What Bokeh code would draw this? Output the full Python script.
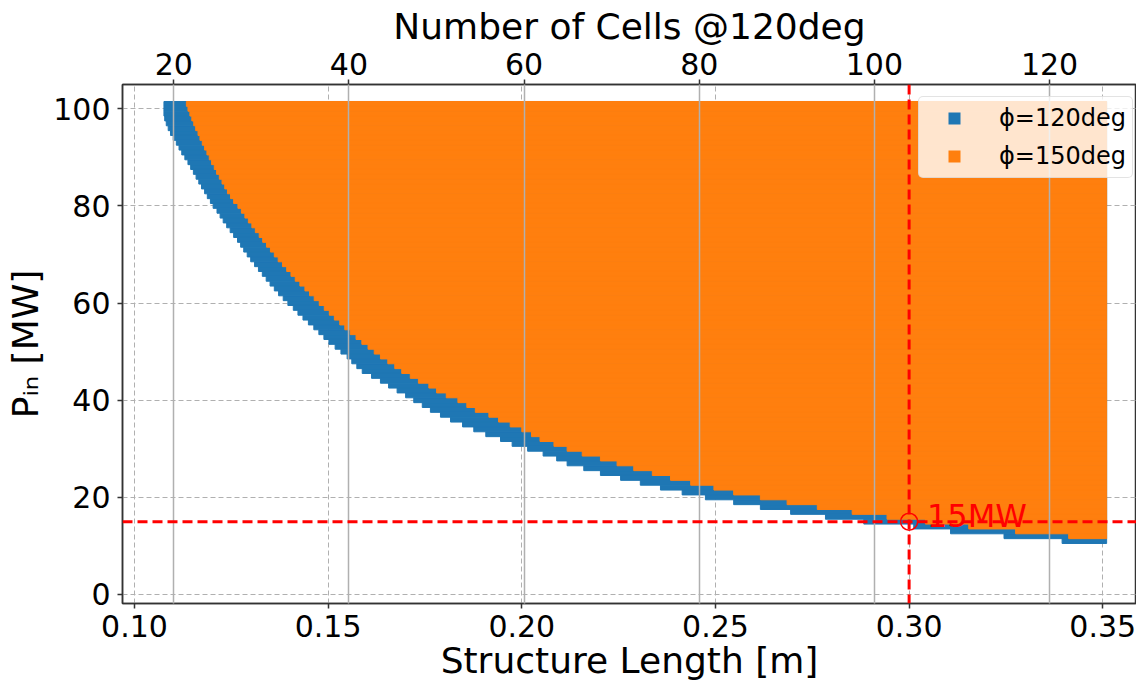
from bokeh.plotting import figure
from bokeh.models import (Range1d, LinearAxis, FixedTicker, PrintfTickFormatter, Grid,
                          Span, Label, Legend, LegendItem, ColumnDataSource)
from bokeh.embed import file_html
from bokeh.resources import INLINE

# ---------------- data ----------------
# input-power rows [MW] and the shortest structure length [m] reaching each row
power_rows_120 = [11, 12, 13, 14, 15, 16, 17, 18, 19, 20, 21, 22, 23, 24, 25, 26, 27, 28, 29, 30,
                  31, 32, 33, 34, 35, 36, 37, 38, 39, 40, 41, 42, 43, 44, 45, 46, 47, 48, 49, 50,
                  51, 52, 53, 54, 55, 56, 57, 58, 59, 60, 61, 62, 63, 64, 65, 66, 67, 68, 69, 70,
                  71, 72, 73, 74, 75, 76, 77, 78, 79, 80, 81, 82, 83, 84, 85, 86, 87, 88, 89, 90,
                  91, 92, 93, 94, 95, 96, 97, 98, 99, 100, 101]
min_length_120 = [0.3395, 0.3245, 0.3107, 0.3012, 0.2883, 0.2784, 0.2694, 0.2616, 0.2547, 0.2474,
                  0.2414, 0.2358, 0.2306, 0.2255, 0.2203, 0.2160, 0.2117, 0.2090, 0.2055, 0.2015,
                  0.1975, 0.1945, 0.1907, 0.1876, 0.1847, 0.1816, 0.1790, 0.1764, 0.1743, 0.1721,
                  0.1700, 0.1678, 0.1656, 0.1635, 0.1612, 0.1588, 0.1574, 0.1561, 0.1549, 0.1533,
                  0.1518, 0.1502, 0.1489, 0.1476, 0.1463, 0.1449, 0.1435, 0.1422, 0.1410, 0.1396,
                  0.1384, 0.1372, 0.1361, 0.1350, 0.1340, 0.1330, 0.1320, 0.1310, 0.1300, 0.1291,
                  0.1282, 0.1274, 0.1266, 0.1256, 0.1247, 0.1238, 0.1229, 0.1221, 0.1213, 0.1203,
                  0.1196, 0.1188, 0.1181, 0.1173, 0.1166, 0.1159, 0.1152, 0.1145, 0.1138, 0.1130,
                  0.1122, 0.1115, 0.1108, 0.1100, 0.1093, 0.1087, 0.1082, 0.1078, 0.1076, 0.1076,
                  0.1076]
power_rows_150 = [12, 13, 14, 15, 16, 17, 18, 19, 20, 21, 22, 23, 24, 25, 26, 27, 28, 29, 30,
                  31, 32, 33, 34, 35, 36, 37, 38, 39, 40, 41, 42, 43, 44, 45, 46, 47, 48, 49, 50,
                  51, 52, 53, 54, 55, 56, 57, 58, 59, 60, 61, 62, 63, 64, 65, 66, 67, 68, 69, 70,
                  71, 72, 73, 74, 75, 76, 77, 78, 79, 80, 81, 82, 83, 84, 85, 86, 87, 88, 89, 90,
                  91, 92, 93, 94, 95, 96, 97, 98, 99, 100, 101]
min_length_150 = [0.3412, 0.3275, 0.3154, 0.3042, 0.2943, 0.2853, 0.2763, 0.2685, 0.2616,
                  0.2547, 0.2496, 0.2436, 0.2384, 0.2337, 0.2289, 0.2246, 0.2203, 0.2156, 0.2117,
                  0.2083, 0.2047, 0.2025, 0.2000, 0.1970, 0.1940, 0.1915, 0.1880, 0.1858, 0.1835,
                  0.1805, 0.1780, 0.1760, 0.1733, 0.1712, 0.1690, 0.1672, 0.1654, 0.1635, 0.1619,
                  0.1603, 0.1587, 0.1572, 0.1557, 0.1543, 0.1530, 0.1516, 0.1503, 0.1490, 0.1477,
                  0.1464, 0.1452, 0.1440, 0.1427, 0.1415, 0.1404, 0.1393, 0.1382, 0.1371, 0.1361,
                  0.1351, 0.1341, 0.1331, 0.1322, 0.1312, 0.1303, 0.1294, 0.1285, 0.1276, 0.1267,
                  0.1256, 0.1248, 0.1240, 0.1233, 0.1226, 0.1219, 0.1212, 0.1206, 0.1199, 0.1193,
                  0.1187, 0.1181, 0.1175, 0.1169, 0.1164, 0.1158, 0.1153, 0.1148, 0.1143, 0.1138,
                  0.1134]
max_length = 0.351                      # end of the length sweep [m]

length_ticks = [0.10, 0.15, 0.20, 0.25, 0.30, 0.35]
power_ticks = [0, 20, 40, 60, 80, 100]
cell_ticks = [20, 40, 60, 80, 100, 120]

cell_length = 0.002261                  # m per cell (120 deg)
length_at_zero_cells = 0.06493          # m

design_length = 0.30
design_power = 15
design_text = "15MW"

labels = ["\u03d5=120deg", "\u03d5=150deg"]

# ---------------- styling ----------------
BLUE = "#1f77b4"
ORANGE = "#ff7f0e"
FONT = "DejaVu Sans"
FRAME = "#333333"

x0, x1 = 0.0969, 0.35871
y0, y1 = -1.853, 105.0

p = figure(width=1136, height=684, output_backend="svg", toolbar_location=None,
           x_range=Range1d(x0, x1), y_range=Range1d(y0, y1),
           min_border_left=122, min_border_right=0, min_border_top=84, min_border_bottom=81,
           background_fill_color="white", border_fill_color="white")
p.extra_x_ranges = {"cells": Range1d((x0 - length_at_zero_cells) / cell_length,
                                     (x1 - length_at_zero_cells) / cell_length)}

p.outline_line_color = FRAME
p.outline_line_width = 1.5

# filled regions
src_120 = ColumnDataSource(data=dict(length=min_length_120, power=power_rows_120))
src_150 = ColumnDataSource(data=dict(length=min_length_150, power=power_rows_150))
p.hbar(y="power", left="length", right=max_length, height=1.0, source=src_120,
       fill_color=BLUE, line_color=BLUE, line_width=1)
p.hbar(y="power", left="length", right=max_length, height=1.0, source=src_150,
       fill_color=ORANGE, line_color=ORANGE, line_width=1)

# axes
def style_axis(ax, standoff, title_standoff):
    ax.major_label_text_font = FONT
    ax.major_label_text_font_size = "30px"
    ax.major_label_text_color = "black"
    ax.major_tick_out = 5
    ax.major_tick_in = 0
    ax.major_tick_line_color = FRAME
    ax.major_tick_line_width = 1.5
    ax.minor_tick_line_color = None
    ax.axis_line_color = FRAME
    ax.axis_line_width = 1.5
    ax.major_label_standoff = standoff
    ax.axis_label_text_font = FONT
    ax.axis_label_text_font_size = "36px"
    ax.axis_label_text_font_style = "normal"
    ax.axis_label_text_color = "black"
    ax.axis_label_standoff = title_standoff

xa = p.xaxis[0]
xa.ticker = FixedTicker(ticks=length_ticks)
xa.formatter = PrintfTickFormatter(format="%.2f")
xa.axis_label = "Structure Length [m]"
style_axis(xa, 6, 0)

ya = p.yaxis[0]
ya.ticker = FixedTicker(ticks=power_ticks)
ya.axis_label = "P\u1d62\u2099 [MW]"
style_axis(ya, 7, 4)

top = LinearAxis(x_range_name="cells", ticker=FixedTicker(ticks=cell_ticks),
                 axis_label="Number of Cells @120deg")
style_axis(top, 5, 3)
p.add_layout(top, "above")

# grids
for g in (p.xgrid[0], p.ygrid[0]):
    g.grid_line_color = "#b0b0b0"
    g.grid_line_dash = "5 3"
    g.grid_line_width = 1
p.xgrid[0].ticker = FixedTicker(ticks=length_ticks)
p.ygrid[0].ticker = FixedTicker(ticks=power_ticks)

cell_grid = Grid(dimension=0, ticker=FixedTicker(ticks=cell_ticks), x_range_name="cells",
                 grid_line_color="#b0b0b0", grid_line_width=1.5, level="guide")
p.add_layout(cell_grid)

# design point
p.add_layout(Span(location=design_length, dimension="height", line_color="red",
                  line_width=3, line_dash="10 5"))
p.add_layout(Span(location=design_power, dimension="width", line_color="red",
                  line_width=3, line_dash="10 5"))
p.scatter([design_length], [design_power], marker="circle", size=17, fill_color=None,
          line_color="red", line_width=1.5)
p.add_layout(Label(x=0.3046, y=16.06, text=design_text, text_color="red",
                   text_font=FONT, text_font_size="32px", text_baseline="alphabetic"))

# legend: square markers of the two data sets (zero size in the plot area; the
# legend draws its own square swatch)
r_b = p.scatter("length", "power", source=src_120, marker="square", size=0,
                fill_color=BLUE, line_color=None)
r_o = p.scatter("length", "power", source=src_150, marker="square", size=0,
                fill_color=ORANGE, line_color=None)
legend = Legend(items=[LegendItem(label=labels[0], renderers=[r_b]),
                       LegendItem(label=labels[1], renderers=[r_o])],
                location=(796, 425), orientation="vertical",
                label_text_font=FONT, label_text_font_size="24px", label_text_color="black",
                glyph_width=58, glyph_height=30, label_standoff=16, padding=6, spacing=8,
                margin=0, border_line_color="#c8c8c8", border_line_width=1,
                background_fill_color="white", background_fill_alpha=0.8)
if "border_radius" in Legend.properties():
    legend.border_radius = 5
p.add_layout(legend)

open("out.html", "w").write(file_html(p, INLINE))
